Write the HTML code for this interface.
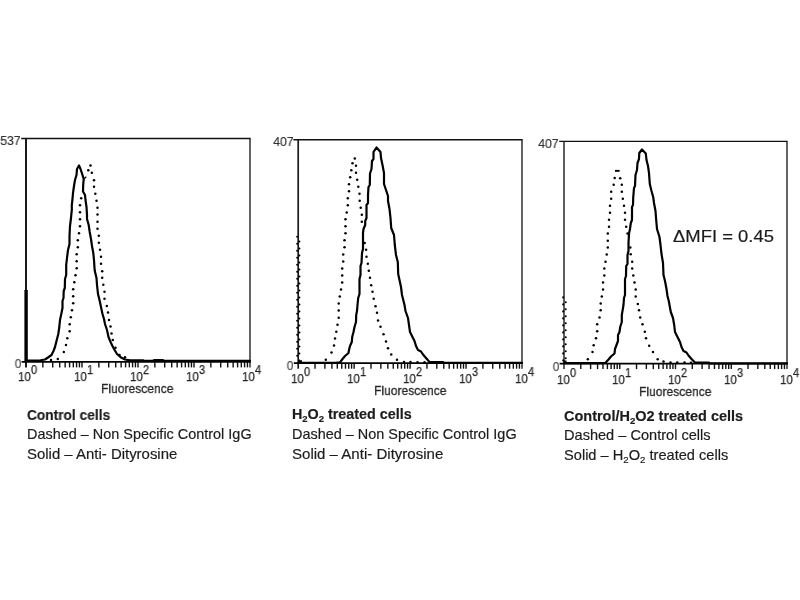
<!DOCTYPE html>
<html><head><meta charset="utf-8"><title>Flow cytometry histograms</title>
<style>
html,body{margin:0;padding:0;background:#fff}
body{width:800px;height:600px;position:relative;overflow:hidden;font-family:"Liberation Sans",sans-serif}
.t{position:absolute;white-space:nowrap;margin:0;padding:0;filter:grayscale(1);will-change:transform}
.t sub{font-size:66%;vertical-align:baseline;position:relative;top:0.36em;line-height:0}
</style></head><body>
<svg width="800" height="600" viewBox="0 0 800 600" style="position:absolute;left:0;top:0;filter:blur(0.35px)">
<rect width="800" height="600" fill="#fff"/>
<line x1="21.2" y1="138.5" x2="250.6" y2="138.5" stroke="#111" stroke-width="1.4"/>
<line x1="26.0" y1="138.5" x2="26.0" y2="367.4" stroke="#1a1a1a" stroke-width="2.0"/>
<line x1="250.0" y1="138.5" x2="250.0" y2="367.4" stroke="#111" stroke-width="1.3"/>
<line x1="21.6" y1="361.9" x2="250.6" y2="361.9" stroke="#000" stroke-width="1.7"/>
<line x1="42.86" y1="361.9" x2="42.86" y2="367.4" stroke="#111" stroke-width="1.4"/>
<line x1="52.72" y1="361.9" x2="52.72" y2="367.4" stroke="#111" stroke-width="1.4"/>
<line x1="59.72" y1="361.9" x2="59.72" y2="367.4" stroke="#111" stroke-width="1.4"/>
<line x1="65.14" y1="361.9" x2="65.14" y2="367.4" stroke="#111" stroke-width="1.4"/>
<line x1="69.58" y1="361.9" x2="69.58" y2="367.4" stroke="#111" stroke-width="1.4"/>
<line x1="73.33" y1="361.9" x2="73.33" y2="367.4" stroke="#111" stroke-width="1.4"/>
<line x1="76.57" y1="361.9" x2="76.57" y2="367.4" stroke="#111" stroke-width="1.4"/>
<line x1="79.44" y1="361.9" x2="79.44" y2="367.4" stroke="#111" stroke-width="1.4"/>
<line x1="82.00" y1="361.9" x2="82.00" y2="367.4" stroke="#111" stroke-width="1.4"/>
<line x1="98.86" y1="361.9" x2="98.86" y2="367.4" stroke="#111" stroke-width="1.4"/>
<line x1="108.72" y1="361.9" x2="108.72" y2="367.4" stroke="#111" stroke-width="1.4"/>
<line x1="115.72" y1="361.9" x2="115.72" y2="367.4" stroke="#111" stroke-width="1.4"/>
<line x1="121.14" y1="361.9" x2="121.14" y2="367.4" stroke="#111" stroke-width="1.4"/>
<line x1="125.58" y1="361.9" x2="125.58" y2="367.4" stroke="#111" stroke-width="1.4"/>
<line x1="129.33" y1="361.9" x2="129.33" y2="367.4" stroke="#111" stroke-width="1.4"/>
<line x1="132.57" y1="361.9" x2="132.57" y2="367.4" stroke="#111" stroke-width="1.4"/>
<line x1="135.44" y1="361.9" x2="135.44" y2="367.4" stroke="#111" stroke-width="1.4"/>
<line x1="138.00" y1="361.9" x2="138.00" y2="367.4" stroke="#111" stroke-width="1.4"/>
<line x1="154.86" y1="361.9" x2="154.86" y2="367.4" stroke="#111" stroke-width="1.4"/>
<line x1="164.72" y1="361.9" x2="164.72" y2="367.4" stroke="#111" stroke-width="1.4"/>
<line x1="171.72" y1="361.9" x2="171.72" y2="367.4" stroke="#111" stroke-width="1.4"/>
<line x1="177.14" y1="361.9" x2="177.14" y2="367.4" stroke="#111" stroke-width="1.4"/>
<line x1="181.58" y1="361.9" x2="181.58" y2="367.4" stroke="#111" stroke-width="1.4"/>
<line x1="185.33" y1="361.9" x2="185.33" y2="367.4" stroke="#111" stroke-width="1.4"/>
<line x1="188.57" y1="361.9" x2="188.57" y2="367.4" stroke="#111" stroke-width="1.4"/>
<line x1="191.44" y1="361.9" x2="191.44" y2="367.4" stroke="#111" stroke-width="1.4"/>
<line x1="194.00" y1="361.9" x2="194.00" y2="367.4" stroke="#111" stroke-width="1.4"/>
<line x1="210.86" y1="361.9" x2="210.86" y2="367.4" stroke="#111" stroke-width="1.4"/>
<line x1="220.72" y1="361.9" x2="220.72" y2="367.4" stroke="#111" stroke-width="1.4"/>
<line x1="227.72" y1="361.9" x2="227.72" y2="367.4" stroke="#111" stroke-width="1.4"/>
<line x1="233.14" y1="361.9" x2="233.14" y2="367.4" stroke="#111" stroke-width="1.4"/>
<line x1="237.58" y1="361.9" x2="237.58" y2="367.4" stroke="#111" stroke-width="1.4"/>
<line x1="241.33" y1="361.9" x2="241.33" y2="367.4" stroke="#111" stroke-width="1.4"/>
<line x1="244.57" y1="361.9" x2="244.57" y2="367.4" stroke="#111" stroke-width="1.4"/>
<line x1="247.44" y1="361.9" x2="247.44" y2="367.4" stroke="#111" stroke-width="1.4"/>
<path d="M27.5,360.6 L40.0,360.6 L42.0,360.0 L45.0,359.5 L48.0,357.5 L51.5,355.0 L53.5,351.0 L55.0,347.0 L56.5,341.0 L58.3,334.0 L59.3,327.0 L60.0,320.0 L61.3,314.0 L62.5,308.0 L62.5,301.0 L63.5,298.0 L63.7,291.0 L64.8,288.0 L65.0,279.0 L66.2,275.0 L66.2,265.0 L67.0,258.0 L68.0,250.0 L69.5,244.0 L69.5,236.0 L70.0,226.0 L71.0,218.0 L71.8,210.0 L71.8,205.0 L72.5,199.0 L73.0,193.0 L74.0,186.0 L75.0,180.0 L76.5,175.0 L77.0,169.0 L79.0,165.5 L80.5,169.0 L82.5,175.0 L83.7,179.0 L83.2,185.0 L83.0,191.5 L85.0,195.0 L85.5,200.0 L86.5,207.0 L87.0,215.0 L87.0,219.0 L88.7,225.0 L89.7,232.0 L91.0,239.0 L92.0,246.0 L93.3,253.0 L94.0,260.0 L94.5,268.0 L94.8,271.0 L96.5,278.0 L97.0,285.0 L98.0,294.0 L99.5,300.0 L101.0,307.0 L102.5,314.0 L104.0,319.0 L105.0,324.0 L107.0,330.0 L108.5,337.0 L111.0,343.0 L114.0,349.0 L117.0,354.0 L121.0,357.5 L125.0,359.5 L130.0,360.3 L143.0,360.3 L144.0,360.8 L153.0,360.8 L154.0,360.2 L163.0,360.2 L164.0,360.8 L250.0,360.8" fill="none" stroke="#000" stroke-width="2.2" stroke-linejoin="round" stroke-linecap="round"/>
<circle cx="90.5" cy="165.5" r="1.25" fill="#000"/>
<circle cx="88.3" cy="170.3" r="1.25" fill="#000"/>
<circle cx="91.8" cy="172.8" r="1.25" fill="#000"/>
<circle cx="94.0" cy="180.2" r="1.25" fill="#000"/>
<circle cx="94.0" cy="186.8" r="1.25" fill="#000"/>
<circle cx="95.3" cy="193.7" r="1.25" fill="#000"/>
<circle cx="96.5" cy="200.8" r="1.25" fill="#000"/>
<circle cx="97.5" cy="207.7" r="1.25" fill="#000"/>
<circle cx="97.5" cy="214.5" r="1.25" fill="#000"/>
<circle cx="97.5" cy="221.7" r="1.25" fill="#000"/>
<circle cx="97.5" cy="228.7" r="1.25" fill="#000"/>
<circle cx="98.8" cy="235.7" r="1.25" fill="#000"/>
<circle cx="98.8" cy="242.7" r="1.25" fill="#000"/>
<circle cx="100.0" cy="249.7" r="1.25" fill="#000"/>
<circle cx="101.0" cy="256.7" r="1.25" fill="#000"/>
<circle cx="101.0" cy="263.7" r="1.25" fill="#000"/>
<circle cx="102.2" cy="271.2" r="1.25" fill="#000"/>
<circle cx="102.2" cy="277.7" r="1.25" fill="#000"/>
<circle cx="103.3" cy="284.7" r="1.25" fill="#000"/>
<circle cx="104.5" cy="291.7" r="1.25" fill="#000"/>
<circle cx="104.5" cy="298.7" r="1.25" fill="#000"/>
<circle cx="106.8" cy="306.0" r="1.25" fill="#000"/>
<circle cx="108.0" cy="312.5" r="1.25" fill="#000"/>
<circle cx="109.0" cy="320.0" r="1.25" fill="#000"/>
<circle cx="110.5" cy="326.5" r="1.25" fill="#000"/>
<circle cx="111.5" cy="333.5" r="1.25" fill="#000"/>
<circle cx="112.8" cy="340.0" r="1.25" fill="#000"/>
<circle cx="115.5" cy="347.8" r="1.25" fill="#000"/>
<circle cx="119.5" cy="355.0" r="1.25" fill="#000"/>
<circle cx="125.0" cy="357.3" r="1.25" fill="#000"/>
<circle cx="81.2" cy="198.3" r="1.25" fill="#000"/>
<circle cx="80.0" cy="205.3" r="1.25" fill="#000"/>
<circle cx="80.0" cy="212.3" r="1.25" fill="#000"/>
<circle cx="80.0" cy="219.3" r="1.25" fill="#000"/>
<circle cx="80.0" cy="226.2" r="1.25" fill="#000"/>
<circle cx="79.0" cy="233.3" r="1.25" fill="#000"/>
<circle cx="77.8" cy="240.3" r="1.25" fill="#000"/>
<circle cx="77.8" cy="247.3" r="1.25" fill="#000"/>
<circle cx="76.7" cy="254.2" r="1.25" fill="#000"/>
<circle cx="76.7" cy="261.3" r="1.25" fill="#000"/>
<circle cx="76.7" cy="268.3" r="1.25" fill="#000"/>
<circle cx="75.5" cy="275.3" r="1.25" fill="#000"/>
<circle cx="74.3" cy="282.3" r="1.25" fill="#000"/>
<circle cx="73.2" cy="289.3" r="1.25" fill="#000"/>
<circle cx="73.2" cy="296.3" r="1.25" fill="#000"/>
<circle cx="73.2" cy="303.2" r="1.25" fill="#000"/>
<circle cx="72.0" cy="310.3" r="1.25" fill="#000"/>
<circle cx="70.8" cy="317.3" r="1.25" fill="#000"/>
<circle cx="69.7" cy="324.2" r="1.25" fill="#000"/>
<circle cx="69.7" cy="331.2" r="1.25" fill="#000"/>
<circle cx="67.3" cy="338.2" r="1.25" fill="#000"/>
<circle cx="66.0" cy="345.0" r="1.25" fill="#000"/>
<circle cx="63.8" cy="352.0" r="1.25" fill="#000"/>
<circle cx="57.8" cy="359.0" r="1.25" fill="#000"/>
<circle cx="51.0" cy="360.0" r="1.25" fill="#000"/>
<line x1="293.4" y1="139.8" x2="522.6" y2="139.8" stroke="#111" stroke-width="1.4"/>
<line x1="298.2" y1="139.8" x2="298.2" y2="368.7" stroke="#1a1a1a" stroke-width="1.7"/>
<line x1="522.0" y1="139.8" x2="522.0" y2="368.7" stroke="#111" stroke-width="1.3"/>
<line x1="293.8" y1="363.2" x2="522.6" y2="363.2" stroke="#000" stroke-width="1.7"/>
<line x1="315.04" y1="363.2" x2="315.04" y2="368.7" stroke="#111" stroke-width="1.4"/>
<line x1="324.89" y1="363.2" x2="324.89" y2="368.7" stroke="#111" stroke-width="1.4"/>
<line x1="331.89" y1="363.2" x2="331.89" y2="368.7" stroke="#111" stroke-width="1.4"/>
<line x1="337.31" y1="363.2" x2="337.31" y2="368.7" stroke="#111" stroke-width="1.4"/>
<line x1="341.74" y1="363.2" x2="341.74" y2="368.7" stroke="#111" stroke-width="1.4"/>
<line x1="345.48" y1="363.2" x2="345.48" y2="368.7" stroke="#111" stroke-width="1.4"/>
<line x1="348.73" y1="363.2" x2="348.73" y2="368.7" stroke="#111" stroke-width="1.4"/>
<line x1="351.59" y1="363.2" x2="351.59" y2="368.7" stroke="#111" stroke-width="1.4"/>
<line x1="354.15" y1="363.2" x2="354.15" y2="368.7" stroke="#111" stroke-width="1.4"/>
<line x1="370.99" y1="363.2" x2="370.99" y2="368.7" stroke="#111" stroke-width="1.4"/>
<line x1="380.84" y1="363.2" x2="380.84" y2="368.7" stroke="#111" stroke-width="1.4"/>
<line x1="387.84" y1="363.2" x2="387.84" y2="368.7" stroke="#111" stroke-width="1.4"/>
<line x1="393.26" y1="363.2" x2="393.26" y2="368.7" stroke="#111" stroke-width="1.4"/>
<line x1="397.69" y1="363.2" x2="397.69" y2="368.7" stroke="#111" stroke-width="1.4"/>
<line x1="401.43" y1="363.2" x2="401.43" y2="368.7" stroke="#111" stroke-width="1.4"/>
<line x1="404.68" y1="363.2" x2="404.68" y2="368.7" stroke="#111" stroke-width="1.4"/>
<line x1="407.54" y1="363.2" x2="407.54" y2="368.7" stroke="#111" stroke-width="1.4"/>
<line x1="410.10" y1="363.2" x2="410.10" y2="368.7" stroke="#111" stroke-width="1.4"/>
<line x1="426.94" y1="363.2" x2="426.94" y2="368.7" stroke="#111" stroke-width="1.4"/>
<line x1="436.79" y1="363.2" x2="436.79" y2="368.7" stroke="#111" stroke-width="1.4"/>
<line x1="443.79" y1="363.2" x2="443.79" y2="368.7" stroke="#111" stroke-width="1.4"/>
<line x1="449.21" y1="363.2" x2="449.21" y2="368.7" stroke="#111" stroke-width="1.4"/>
<line x1="453.64" y1="363.2" x2="453.64" y2="368.7" stroke="#111" stroke-width="1.4"/>
<line x1="457.38" y1="363.2" x2="457.38" y2="368.7" stroke="#111" stroke-width="1.4"/>
<line x1="460.63" y1="363.2" x2="460.63" y2="368.7" stroke="#111" stroke-width="1.4"/>
<line x1="463.49" y1="363.2" x2="463.49" y2="368.7" stroke="#111" stroke-width="1.4"/>
<line x1="466.05" y1="363.2" x2="466.05" y2="368.7" stroke="#111" stroke-width="1.4"/>
<line x1="482.89" y1="363.2" x2="482.89" y2="368.7" stroke="#111" stroke-width="1.4"/>
<line x1="492.74" y1="363.2" x2="492.74" y2="368.7" stroke="#111" stroke-width="1.4"/>
<line x1="499.74" y1="363.2" x2="499.74" y2="368.7" stroke="#111" stroke-width="1.4"/>
<line x1="505.16" y1="363.2" x2="505.16" y2="368.7" stroke="#111" stroke-width="1.4"/>
<line x1="509.59" y1="363.2" x2="509.59" y2="368.7" stroke="#111" stroke-width="1.4"/>
<line x1="513.33" y1="363.2" x2="513.33" y2="368.7" stroke="#111" stroke-width="1.4"/>
<line x1="516.58" y1="363.2" x2="516.58" y2="368.7" stroke="#111" stroke-width="1.4"/>
<line x1="519.44" y1="363.2" x2="519.44" y2="368.7" stroke="#111" stroke-width="1.4"/>
<path d="M298.5,362.8 L335.0,362.8 L340.0,362.3 L342.5,359.0 L345.0,356.0 L348.5,353.0 L349.0,350.0 L350.0,346.0 L351.8,342.0 L352.2,337.0 L353.5,332.0 L354.5,327.0 L356.0,322.0 L356.2,315.0 L357.0,311.0 L357.5,305.0 L358.2,298.0 L359.5,294.0 L359.5,279.0 L360.5,275.0 L360.5,266.0 L361.5,263.0 L362.0,253.0 L363.0,249.0 L363.0,233.0 L363.5,229.0 L365.2,225.0 L365.2,221.0 L366.5,218.0 L366.5,205.0 L368.0,203.0 L368.0,195.0 L368.5,187.0 L369.8,185.0 L370.0,173.5 L371.5,169.0 L372.0,161.0 L373.5,159.0 L373.5,152.0 L376.5,147.5 L380.5,152.0 L381.0,158.0 L382.5,165.0 L384.0,173.0 L384.0,184.0 L386.0,190.0 L388.0,196.0 L388.0,201.0 L389.5,209.0 L390.5,218.0 L391.2,228.0 L394.0,235.0 L394.8,245.0 L396.0,255.0 L397.8,262.0 L398.2,274.0 L399.5,280.0 L401.0,287.0 L402.0,295.0 L403.5,301.0 L404.5,305.0 L405.5,311.0 L408.0,318.0 L409.0,325.0 L410.0,332.0 L412.5,337.0 L414.5,341.0 L416.0,346.0 L418.0,350.0 L421.0,351.5 L423.0,354.5 L426.0,358.0 L429.5,362.0 L443.0,362.0 L444.0,362.9 L522.0,362.9" fill="none" stroke="#000" stroke-width="2.2" stroke-linejoin="round" stroke-linecap="round"/>
<circle cx="354.8" cy="158.5" r="1.25" fill="#000"/>
<circle cx="352.5" cy="163.3" r="1.25" fill="#000"/>
<circle cx="351.3" cy="170.2" r="1.25" fill="#000"/>
<circle cx="350.2" cy="177.3" r="1.25" fill="#000"/>
<circle cx="349.0" cy="184.3" r="1.25" fill="#000"/>
<circle cx="349.0" cy="191.3" r="1.25" fill="#000"/>
<circle cx="347.8" cy="198.3" r="1.25" fill="#000"/>
<circle cx="347.8" cy="205.3" r="1.25" fill="#000"/>
<circle cx="346.7" cy="212.5" r="1.25" fill="#000"/>
<circle cx="345.5" cy="219.3" r="1.25" fill="#000"/>
<circle cx="345.5" cy="226.3" r="1.25" fill="#000"/>
<circle cx="345.5" cy="233.3" r="1.25" fill="#000"/>
<circle cx="344.5" cy="240.3" r="1.25" fill="#000"/>
<circle cx="344.5" cy="247.3" r="1.25" fill="#000"/>
<circle cx="343.2" cy="254.4" r="1.25" fill="#000"/>
<circle cx="343.2" cy="261.5" r="1.25" fill="#000"/>
<circle cx="342.2" cy="268.5" r="1.25" fill="#000"/>
<circle cx="342.2" cy="275.5" r="1.25" fill="#000"/>
<circle cx="342.2" cy="282.5" r="1.25" fill="#000"/>
<circle cx="341.0" cy="289.5" r="1.25" fill="#000"/>
<circle cx="339.8" cy="296.5" r="1.25" fill="#000"/>
<circle cx="338.7" cy="303.5" r="1.25" fill="#000"/>
<circle cx="338.7" cy="310.5" r="1.25" fill="#000"/>
<circle cx="338.7" cy="317.7" r="1.25" fill="#000"/>
<circle cx="337.5" cy="324.7" r="1.25" fill="#000"/>
<circle cx="336.3" cy="331.7" r="1.25" fill="#000"/>
<circle cx="335.0" cy="338.5" r="1.25" fill="#000"/>
<circle cx="334.0" cy="345.5" r="1.25" fill="#000"/>
<circle cx="331.5" cy="352.5" r="1.25" fill="#000"/>
<circle cx="325.8" cy="359.8" r="1.25" fill="#000"/>
<circle cx="356.0" cy="165.7" r="1.25" fill="#000"/>
<circle cx="356.0" cy="172.7" r="1.25" fill="#000"/>
<circle cx="357.2" cy="179.7" r="1.25" fill="#000"/>
<circle cx="358.3" cy="186.7" r="1.25" fill="#000"/>
<circle cx="359.5" cy="193.8" r="1.25" fill="#000"/>
<circle cx="359.7" cy="200.8" r="1.25" fill="#000"/>
<circle cx="360.7" cy="207.7" r="1.25" fill="#000"/>
<circle cx="361.8" cy="214.8" r="1.25" fill="#000"/>
<circle cx="361.8" cy="221.8" r="1.25" fill="#000"/>
<circle cx="364.7" cy="243.0" r="1.25" fill="#000"/>
<circle cx="366.1" cy="249.8" r="1.25" fill="#000"/>
<circle cx="366.5" cy="256.8" r="1.25" fill="#000"/>
<circle cx="367.8" cy="263.8" r="1.25" fill="#000"/>
<circle cx="368.8" cy="270.8" r="1.25" fill="#000"/>
<circle cx="370.0" cy="277.8" r="1.25" fill="#000"/>
<circle cx="371.2" cy="285.3" r="1.25" fill="#000"/>
<circle cx="372.5" cy="291.8" r="1.25" fill="#000"/>
<circle cx="373.7" cy="298.8" r="1.25" fill="#000"/>
<circle cx="375.5" cy="306.3" r="1.25" fill="#000"/>
<circle cx="377.0" cy="312.8" r="1.25" fill="#000"/>
<circle cx="378.0" cy="320.5" r="1.25" fill="#000"/>
<circle cx="380.5" cy="326.7" r="1.25" fill="#000"/>
<circle cx="383.5" cy="334.2" r="1.25" fill="#000"/>
<circle cx="386.0" cy="341.5" r="1.25" fill="#000"/>
<circle cx="388.0" cy="348.2" r="1.25" fill="#000"/>
<circle cx="391.2" cy="354.5" r="1.25" fill="#000"/>
<circle cx="397.0" cy="359.8" r="1.25" fill="#000"/>
<circle cx="404.0" cy="362.0" r="1.25" fill="#000"/>
<circle cx="410.5" cy="362.0" r="1.25" fill="#000"/>
<circle cx="417.5" cy="362.2" r="1.25" fill="#000"/>
<circle cx="424.5" cy="362.2" r="1.25" fill="#000"/>
<line x1="559.2" y1="141.4" x2="787.6" y2="141.4" stroke="#111" stroke-width="1.4"/>
<line x1="564.0" y1="141.4" x2="564.0" y2="369.1" stroke="#1a1a1a" stroke-width="1.4"/>
<line x1="787.0" y1="141.4" x2="787.0" y2="369.1" stroke="#111" stroke-width="1.3"/>
<line x1="559.6" y1="363.6" x2="787.6" y2="363.6" stroke="#000" stroke-width="1.7"/>
<line x1="580.78" y1="363.6" x2="580.78" y2="369.1" stroke="#111" stroke-width="1.4"/>
<line x1="590.60" y1="363.6" x2="590.60" y2="369.1" stroke="#111" stroke-width="1.4"/>
<line x1="597.56" y1="363.6" x2="597.56" y2="369.1" stroke="#111" stroke-width="1.4"/>
<line x1="602.97" y1="363.6" x2="602.97" y2="369.1" stroke="#111" stroke-width="1.4"/>
<line x1="607.38" y1="363.6" x2="607.38" y2="369.1" stroke="#111" stroke-width="1.4"/>
<line x1="611.11" y1="363.6" x2="611.11" y2="369.1" stroke="#111" stroke-width="1.4"/>
<line x1="614.35" y1="363.6" x2="614.35" y2="369.1" stroke="#111" stroke-width="1.4"/>
<line x1="617.20" y1="363.6" x2="617.20" y2="369.1" stroke="#111" stroke-width="1.4"/>
<line x1="619.75" y1="363.6" x2="619.75" y2="369.1" stroke="#111" stroke-width="1.4"/>
<line x1="636.53" y1="363.6" x2="636.53" y2="369.1" stroke="#111" stroke-width="1.4"/>
<line x1="646.35" y1="363.6" x2="646.35" y2="369.1" stroke="#111" stroke-width="1.4"/>
<line x1="653.31" y1="363.6" x2="653.31" y2="369.1" stroke="#111" stroke-width="1.4"/>
<line x1="658.72" y1="363.6" x2="658.72" y2="369.1" stroke="#111" stroke-width="1.4"/>
<line x1="663.13" y1="363.6" x2="663.13" y2="369.1" stroke="#111" stroke-width="1.4"/>
<line x1="666.86" y1="363.6" x2="666.86" y2="369.1" stroke="#111" stroke-width="1.4"/>
<line x1="670.10" y1="363.6" x2="670.10" y2="369.1" stroke="#111" stroke-width="1.4"/>
<line x1="672.95" y1="363.6" x2="672.95" y2="369.1" stroke="#111" stroke-width="1.4"/>
<line x1="675.50" y1="363.6" x2="675.50" y2="369.1" stroke="#111" stroke-width="1.4"/>
<line x1="692.28" y1="363.6" x2="692.28" y2="369.1" stroke="#111" stroke-width="1.4"/>
<line x1="702.10" y1="363.6" x2="702.10" y2="369.1" stroke="#111" stroke-width="1.4"/>
<line x1="709.06" y1="363.6" x2="709.06" y2="369.1" stroke="#111" stroke-width="1.4"/>
<line x1="714.47" y1="363.6" x2="714.47" y2="369.1" stroke="#111" stroke-width="1.4"/>
<line x1="718.88" y1="363.6" x2="718.88" y2="369.1" stroke="#111" stroke-width="1.4"/>
<line x1="722.61" y1="363.6" x2="722.61" y2="369.1" stroke="#111" stroke-width="1.4"/>
<line x1="725.85" y1="363.6" x2="725.85" y2="369.1" stroke="#111" stroke-width="1.4"/>
<line x1="728.70" y1="363.6" x2="728.70" y2="369.1" stroke="#111" stroke-width="1.4"/>
<line x1="731.25" y1="363.6" x2="731.25" y2="369.1" stroke="#111" stroke-width="1.4"/>
<line x1="748.03" y1="363.6" x2="748.03" y2="369.1" stroke="#111" stroke-width="1.4"/>
<line x1="757.85" y1="363.6" x2="757.85" y2="369.1" stroke="#111" stroke-width="1.4"/>
<line x1="764.81" y1="363.6" x2="764.81" y2="369.1" stroke="#111" stroke-width="1.4"/>
<line x1="770.22" y1="363.6" x2="770.22" y2="369.1" stroke="#111" stroke-width="1.4"/>
<line x1="774.63" y1="363.6" x2="774.63" y2="369.1" stroke="#111" stroke-width="1.4"/>
<line x1="778.36" y1="363.6" x2="778.36" y2="369.1" stroke="#111" stroke-width="1.4"/>
<line x1="781.60" y1="363.6" x2="781.60" y2="369.1" stroke="#111" stroke-width="1.4"/>
<line x1="784.45" y1="363.6" x2="784.45" y2="369.1" stroke="#111" stroke-width="1.4"/>
<path d="M564.5,363.2 L600.0,363.2 L605.5,362.8 L608.5,359.5 L611.0,356.5 L614.5,353.5 L615.0,349.0 L616.5,345.0 L618.0,341.0 L618.0,335.0 L619.5,332.0 L620.2,327.0 L621.8,322.0 L621.8,315.0 L622.5,311.0 L623.5,305.0 L624.0,298.0 L625.0,295.0 L625.0,279.0 L626.0,276.0 L626.2,266.0 L627.5,264.0 L627.5,255.0 L628.5,251.0 L628.5,243.0 L629.0,233.5 L630.0,229.0 L630.8,223.0 L632.0,220.0 L632.0,207.0 L633.0,205.0 L633.2,198.0 L634.0,188.0 L635.0,186.0 L635.5,175.0 L637.0,170.0 L637.5,163.0 L639.0,159.0 L639.3,153.0 L642.0,149.5 L645.8,153.5 L646.5,160.0 L648.0,166.0 L649.0,173.0 L649.8,184.0 L651.5,191.0 L653.2,197.0 L654.0,203.0 L655.5,211.0 L656.2,220.0 L657.0,229.0 L659.5,237.0 L660.5,245.0 L661.5,254.0 L662.0,257.0 L663.0,263.0 L663.5,275.0 L665.0,281.0 L666.5,289.0 L667.5,296.0 L669.0,302.0 L669.5,305.0 L670.8,312.0 L673.0,318.0 L674.2,325.0 L675.0,332.0 L677.5,337.0 L680.0,342.0 L681.5,347.0 L683.5,351.0 L686.5,352.5 L688.5,355.5 L691.5,359.0 L695.0,362.5 L709.0,362.5 L710.0,363.3 L787.0,363.3" fill="none" stroke="#000" stroke-width="2.2" stroke-linejoin="round" stroke-linecap="round"/>
<circle cx="614.7" cy="178.0" r="1.25" fill="#000"/>
<circle cx="613.7" cy="184.7" r="1.25" fill="#000"/>
<circle cx="611.2" cy="191.8" r="1.25" fill="#000"/>
<circle cx="611.2" cy="198.7" r="1.25" fill="#000"/>
<circle cx="610.0" cy="205.7" r="1.25" fill="#000"/>
<circle cx="610.0" cy="212.8" r="1.25" fill="#000"/>
<circle cx="609.0" cy="219.7" r="1.25" fill="#000"/>
<circle cx="609.0" cy="226.7" r="1.25" fill="#000"/>
<circle cx="607.8" cy="233.5" r="1.25" fill="#000"/>
<circle cx="607.8" cy="240.7" r="1.25" fill="#000"/>
<circle cx="607.8" cy="247.5" r="1.25" fill="#000"/>
<circle cx="606.7" cy="254.4" r="1.25" fill="#000"/>
<circle cx="605.5" cy="261.7" r="1.25" fill="#000"/>
<circle cx="604.3" cy="268.5" r="1.25" fill="#000"/>
<circle cx="604.3" cy="275.5" r="1.25" fill="#000"/>
<circle cx="603.0" cy="282.5" r="1.25" fill="#000"/>
<circle cx="603.0" cy="289.5" r="1.25" fill="#000"/>
<circle cx="601.8" cy="296.5" r="1.25" fill="#000"/>
<circle cx="600.7" cy="303.5" r="1.25" fill="#000"/>
<circle cx="600.7" cy="310.2" r="1.25" fill="#000"/>
<circle cx="599.5" cy="317.5" r="1.25" fill="#000"/>
<circle cx="597.2" cy="324.2" r="1.25" fill="#000"/>
<circle cx="597.2" cy="331.3" r="1.25" fill="#000"/>
<circle cx="596.0" cy="338.2" r="1.25" fill="#000"/>
<circle cx="593.7" cy="345.2" r="1.25" fill="#000"/>
<circle cx="592.5" cy="352.0" r="1.25" fill="#000"/>
<circle cx="587.8" cy="359.2" r="1.25" fill="#000"/>
<circle cx="620.2" cy="178.3" r="1.25" fill="#000"/>
<circle cx="621.8" cy="184.7" r="1.25" fill="#000"/>
<circle cx="621.8" cy="191.8" r="1.25" fill="#000"/>
<circle cx="622.8" cy="198.7" r="1.25" fill="#000"/>
<circle cx="624.0" cy="205.7" r="1.25" fill="#000"/>
<circle cx="625.0" cy="212.8" r="1.25" fill="#000"/>
<circle cx="625.0" cy="219.7" r="1.25" fill="#000"/>
<circle cx="626.2" cy="226.8" r="1.25" fill="#000"/>
<circle cx="627.5" cy="233.5" r="1.25" fill="#000"/>
<circle cx="630.3" cy="247.5" r="1.25" fill="#000"/>
<circle cx="630.7" cy="254.3" r="1.25" fill="#000"/>
<circle cx="632.2" cy="261.7" r="1.25" fill="#000"/>
<circle cx="632.2" cy="268.5" r="1.25" fill="#000"/>
<circle cx="633.3" cy="275.5" r="1.25" fill="#000"/>
<circle cx="634.5" cy="282.5" r="1.25" fill="#000"/>
<circle cx="635.7" cy="289.5" r="1.25" fill="#000"/>
<circle cx="635.7" cy="296.5" r="1.25" fill="#000"/>
<circle cx="637.8" cy="304.0" r="1.25" fill="#000"/>
<circle cx="639.0" cy="310.2" r="1.25" fill="#000"/>
<circle cx="640.2" cy="317.5" r="1.25" fill="#000"/>
<circle cx="642.5" cy="324.2" r="1.25" fill="#000"/>
<circle cx="644.8" cy="331.8" r="1.25" fill="#000"/>
<circle cx="646.0" cy="338.2" r="1.25" fill="#000"/>
<circle cx="649.2" cy="345.7" r="1.25" fill="#000"/>
<circle cx="653.0" cy="352.0" r="1.25" fill="#000"/>
<circle cx="657.7" cy="359.2" r="1.25" fill="#000"/>
<circle cx="663.5" cy="361.5" r="1.25" fill="#000"/>
<circle cx="670.5" cy="362.4" r="1.25" fill="#000"/>
<circle cx="677.2" cy="362.4" r="1.25" fill="#000"/>
<circle cx="684.5" cy="362.6" r="1.25" fill="#000"/>
<circle cx="691.0" cy="362.8" r="1.25" fill="#000"/>
<rect x="24.4" y="290" width="3.4" height="72" fill="#000"/>
<line x1="83.7" y1="179" x2="86.3" y2="176.7" stroke="#000" stroke-width="1.2"/>
<rect x="615.0" y="169.9" width="4.6" height="1.9" fill="#000"/>
<circle cx="297.2" cy="236.8" r="1.05" fill="#000"/>
<circle cx="297.2" cy="243.8" r="1.05" fill="#000"/>
<circle cx="297.2" cy="250.8" r="1.05" fill="#000"/>
<circle cx="297.2" cy="257.8" r="1.05" fill="#000"/>
<circle cx="297.2" cy="264.8" r="1.05" fill="#000"/>
<circle cx="297.2" cy="271.8" r="1.05" fill="#000"/>
<circle cx="297.2" cy="278.8" r="1.05" fill="#000"/>
<circle cx="297.2" cy="285.8" r="1.05" fill="#000"/>
<circle cx="297.2" cy="292.8" r="1.05" fill="#000"/>
<circle cx="297.2" cy="299.8" r="1.05" fill="#000"/>
<circle cx="297.2" cy="306.8" r="1.05" fill="#000"/>
<circle cx="297.2" cy="313.8" r="1.05" fill="#000"/>
<circle cx="297.2" cy="320.8" r="1.05" fill="#000"/>
<circle cx="297.2" cy="327.8" r="1.05" fill="#000"/>
<circle cx="297.2" cy="334.8" r="1.05" fill="#000"/>
<circle cx="297.2" cy="341.8" r="1.05" fill="#000"/>
<circle cx="297.2" cy="348.8" r="1.05" fill="#000"/>
<circle cx="297.2" cy="355.8" r="1.05" fill="#000"/>
<circle cx="299.4" cy="241.5" r="1.05" fill="#000"/>
<circle cx="299.4" cy="248.5" r="1.05" fill="#000"/>
<circle cx="299.4" cy="255.5" r="1.05" fill="#000"/>
<circle cx="299.4" cy="262.5" r="1.05" fill="#000"/>
<circle cx="299.4" cy="269.5" r="1.05" fill="#000"/>
<circle cx="299.4" cy="276.5" r="1.05" fill="#000"/>
<circle cx="299.4" cy="283.5" r="1.05" fill="#000"/>
<circle cx="299.4" cy="290.5" r="1.05" fill="#000"/>
<circle cx="299.4" cy="297.5" r="1.05" fill="#000"/>
<circle cx="299.4" cy="304.5" r="1.05" fill="#000"/>
<circle cx="299.4" cy="311.5" r="1.05" fill="#000"/>
<circle cx="299.4" cy="318.5" r="1.05" fill="#000"/>
<circle cx="299.4" cy="325.5" r="1.05" fill="#000"/>
<circle cx="299.4" cy="332.5" r="1.05" fill="#000"/>
<circle cx="299.4" cy="339.5" r="1.05" fill="#000"/>
<circle cx="299.4" cy="346.5" r="1.05" fill="#000"/>
<circle cx="299.4" cy="353.5" r="1.05" fill="#000"/>
<circle cx="299.4" cy="360.5" r="1.05" fill="#000"/>
<rect x="298" y="360.3" width="4" height="2.5" fill="#000"/>
<circle cx="563.2" cy="297.4" r="1.05" fill="#000"/>
<circle cx="563.2" cy="304.4" r="1.05" fill="#000"/>
<circle cx="563.2" cy="311.4" r="1.05" fill="#000"/>
<circle cx="563.2" cy="318.4" r="1.05" fill="#000"/>
<circle cx="563.2" cy="325.4" r="1.05" fill="#000"/>
<circle cx="563.2" cy="332.4" r="1.05" fill="#000"/>
<circle cx="563.2" cy="339.4" r="1.05" fill="#000"/>
<circle cx="563.2" cy="346.4" r="1.05" fill="#000"/>
<circle cx="563.2" cy="353.4" r="1.05" fill="#000"/>
<circle cx="563.2" cy="360.4" r="1.05" fill="#000"/>
<circle cx="565.7" cy="302.3" r="1.05" fill="#000"/>
<circle cx="565.7" cy="309.3" r="1.05" fill="#000"/>
<circle cx="565.7" cy="316.3" r="1.05" fill="#000"/>
<circle cx="565.7" cy="323.3" r="1.05" fill="#000"/>
<circle cx="565.7" cy="330.3" r="1.05" fill="#000"/>
<circle cx="565.7" cy="337.3" r="1.05" fill="#000"/>
<circle cx="565.7" cy="344.3" r="1.05" fill="#000"/>
<circle cx="565.7" cy="351.3" r="1.05" fill="#000"/>
<circle cx="565.7" cy="358.3" r="1.05" fill="#000"/>
<rect x="563.5" y="360.5" width="3" height="2.5" fill="#000"/>
</svg>
<div id="ymax0" class="t" style="right:778.90px;top:133.13px;font-size:13.6px;line-height:16.32px;font-weight:normal;color:#333;-webkit-text-stroke:0.20px #333;transform:scaleX(0.9000);transform-origin:right top">537</div>
<div id="y00" class="t" style="right:778.30px;top:356.12px;font-size:13.4px;line-height:16.08px;font-weight:normal;color:#4a4a4a;-webkit-text-stroke:0.20px #4a4a4a;transform:scaleX(0.9000);transform-origin:right top">0</div>
<div id="t0_0" class="t" style="left:17.80px;top:370.26px;font-size:12.4px;line-height:14.88px;font-weight:normal;color:#262626;-webkit-text-stroke:0.25px #262626;transform:scaleX(0.9200);transform-origin:left top">10</div>
<div id="e0_0" class="t" style="left:30.80px;top:363.05px;font-size:12.2px;line-height:14.64px;font-weight:normal;color:#262626;-webkit-text-stroke:0.25px #262626;transform:scaleX(0.9000);transform-origin:left top">0</div>
<div id="t0_1" class="t" style="left:73.80px;top:370.26px;font-size:12.4px;line-height:14.88px;font-weight:normal;color:#262626;-webkit-text-stroke:0.25px #262626;transform:scaleX(0.9200);transform-origin:left top">10</div>
<div id="e0_1" class="t" style="left:86.80px;top:363.05px;font-size:12.2px;line-height:14.64px;font-weight:normal;color:#262626;-webkit-text-stroke:0.25px #262626;transform:scaleX(0.9000);transform-origin:left top">1</div>
<div id="t0_2" class="t" style="left:129.80px;top:370.26px;font-size:12.4px;line-height:14.88px;font-weight:normal;color:#262626;-webkit-text-stroke:0.25px #262626;transform:scaleX(0.9200);transform-origin:left top">10</div>
<div id="e0_2" class="t" style="left:142.80px;top:363.05px;font-size:12.2px;line-height:14.64px;font-weight:normal;color:#262626;-webkit-text-stroke:0.25px #262626;transform:scaleX(0.9000);transform-origin:left top">2</div>
<div id="t0_3" class="t" style="left:185.80px;top:370.26px;font-size:12.4px;line-height:14.88px;font-weight:normal;color:#262626;-webkit-text-stroke:0.25px #262626;transform:scaleX(0.9200);transform-origin:left top">10</div>
<div id="e0_3" class="t" style="left:198.80px;top:363.05px;font-size:12.2px;line-height:14.64px;font-weight:normal;color:#262626;-webkit-text-stroke:0.25px #262626;transform:scaleX(0.9000);transform-origin:left top">3</div>
<div id="t0_4" class="t" style="left:241.80px;top:370.26px;font-size:12.4px;line-height:14.88px;font-weight:normal;color:#262626;-webkit-text-stroke:0.25px #262626;transform:scaleX(0.9200);transform-origin:left top">10</div>
<div id="e0_4" class="t" style="left:254.80px;top:363.05px;font-size:12.2px;line-height:14.64px;font-weight:normal;color:#262626;-webkit-text-stroke:0.25px #262626;transform:scaleX(0.9000);transform-origin:left top">4</div>
<div id="fl0" class="t" style="left:101.40px;top:380.82px;font-size:13.5px;line-height:16.20px;font-weight:normal;color:#262626;-webkit-text-stroke:0.30px #262626;transform:scaleX(0.8945);transform-origin:left top">Fluorescence</div>
<div id="ymax1" class="t" style="right:506.70px;top:133.73px;font-size:13.6px;line-height:16.32px;font-weight:normal;color:#333;-webkit-text-stroke:0.20px #333;transform:scaleX(0.9000);transform-origin:right top">407</div>
<div id="y01" class="t" style="right:507.00px;top:357.82px;font-size:13.4px;line-height:16.08px;font-weight:normal;color:#4a4a4a;-webkit-text-stroke:0.20px #4a4a4a;transform:scaleX(0.9000);transform-origin:right top">0</div>
<div id="t1_0" class="t" style="left:290.80px;top:371.96px;font-size:12.4px;line-height:14.88px;font-weight:normal;color:#262626;-webkit-text-stroke:0.25px #262626;transform:scaleX(0.9200);transform-origin:left top">10</div>
<div id="e1_0" class="t" style="left:303.80px;top:364.75px;font-size:12.2px;line-height:14.64px;font-weight:normal;color:#262626;-webkit-text-stroke:0.25px #262626;transform:scaleX(0.9000);transform-origin:left top">0</div>
<div id="t1_1" class="t" style="left:346.75px;top:371.96px;font-size:12.4px;line-height:14.88px;font-weight:normal;color:#262626;-webkit-text-stroke:0.25px #262626;transform:scaleX(0.9200);transform-origin:left top">10</div>
<div id="e1_1" class="t" style="left:359.75px;top:364.75px;font-size:12.2px;line-height:14.64px;font-weight:normal;color:#262626;-webkit-text-stroke:0.25px #262626;transform:scaleX(0.9000);transform-origin:left top">1</div>
<div id="t1_2" class="t" style="left:402.70px;top:371.96px;font-size:12.4px;line-height:14.88px;font-weight:normal;color:#262626;-webkit-text-stroke:0.25px #262626;transform:scaleX(0.9200);transform-origin:left top">10</div>
<div id="e1_2" class="t" style="left:415.70px;top:364.75px;font-size:12.2px;line-height:14.64px;font-weight:normal;color:#262626;-webkit-text-stroke:0.25px #262626;transform:scaleX(0.9000);transform-origin:left top">2</div>
<div id="t1_3" class="t" style="left:458.65px;top:371.96px;font-size:12.4px;line-height:14.88px;font-weight:normal;color:#262626;-webkit-text-stroke:0.25px #262626;transform:scaleX(0.9200);transform-origin:left top">10</div>
<div id="e1_3" class="t" style="left:471.65px;top:364.75px;font-size:12.2px;line-height:14.64px;font-weight:normal;color:#262626;-webkit-text-stroke:0.25px #262626;transform:scaleX(0.9000);transform-origin:left top">3</div>
<div id="t1_4" class="t" style="left:514.60px;top:371.96px;font-size:12.4px;line-height:14.88px;font-weight:normal;color:#262626;-webkit-text-stroke:0.25px #262626;transform:scaleX(0.9200);transform-origin:left top">10</div>
<div id="e1_4" class="t" style="left:527.60px;top:364.75px;font-size:12.2px;line-height:14.64px;font-weight:normal;color:#262626;-webkit-text-stroke:0.25px #262626;transform:scaleX(0.9000);transform-origin:left top">4</div>
<div id="fl1" class="t" style="left:373.50px;top:382.52px;font-size:13.5px;line-height:16.20px;font-weight:normal;color:#262626;-webkit-text-stroke:0.30px #262626;transform:scaleX(0.8945);transform-origin:left top">Fluorescence</div>
<div id="ymax2" class="t" style="right:240.90px;top:135.93px;font-size:13.6px;line-height:16.32px;font-weight:normal;color:#333;-webkit-text-stroke:0.20px #333;transform:scaleX(0.9000);transform-origin:right top">407</div>
<div id="y02" class="t" style="right:241.00px;top:358.92px;font-size:13.4px;line-height:16.08px;font-weight:normal;color:#4a4a4a;-webkit-text-stroke:0.20px #4a4a4a;transform:scaleX(0.9000);transform-origin:right top">0</div>
<div id="t2_0" class="t" style="left:556.60px;top:373.06px;font-size:12.4px;line-height:14.88px;font-weight:normal;color:#262626;-webkit-text-stroke:0.25px #262626;transform:scaleX(0.9200);transform-origin:left top">10</div>
<div id="e2_0" class="t" style="left:569.60px;top:365.85px;font-size:12.2px;line-height:14.64px;font-weight:normal;color:#262626;-webkit-text-stroke:0.25px #262626;transform:scaleX(0.9000);transform-origin:left top">0</div>
<div id="t2_1" class="t" style="left:612.35px;top:373.06px;font-size:12.4px;line-height:14.88px;font-weight:normal;color:#262626;-webkit-text-stroke:0.25px #262626;transform:scaleX(0.9200);transform-origin:left top">10</div>
<div id="e2_1" class="t" style="left:625.35px;top:365.85px;font-size:12.2px;line-height:14.64px;font-weight:normal;color:#262626;-webkit-text-stroke:0.25px #262626;transform:scaleX(0.9000);transform-origin:left top">1</div>
<div id="t2_2" class="t" style="left:668.10px;top:373.06px;font-size:12.4px;line-height:14.88px;font-weight:normal;color:#262626;-webkit-text-stroke:0.25px #262626;transform:scaleX(0.9200);transform-origin:left top">10</div>
<div id="e2_2" class="t" style="left:681.10px;top:365.85px;font-size:12.2px;line-height:14.64px;font-weight:normal;color:#262626;-webkit-text-stroke:0.25px #262626;transform:scaleX(0.9000);transform-origin:left top">2</div>
<div id="t2_3" class="t" style="left:723.85px;top:373.06px;font-size:12.4px;line-height:14.88px;font-weight:normal;color:#262626;-webkit-text-stroke:0.25px #262626;transform:scaleX(0.9200);transform-origin:left top">10</div>
<div id="e2_3" class="t" style="left:736.85px;top:365.85px;font-size:12.2px;line-height:14.64px;font-weight:normal;color:#262626;-webkit-text-stroke:0.25px #262626;transform:scaleX(0.9000);transform-origin:left top">3</div>
<div id="t2_4" class="t" style="left:779.60px;top:373.06px;font-size:12.4px;line-height:14.88px;font-weight:normal;color:#262626;-webkit-text-stroke:0.25px #262626;transform:scaleX(0.9200);transform-origin:left top">10</div>
<div id="e2_4" class="t" style="left:792.60px;top:365.85px;font-size:12.2px;line-height:14.64px;font-weight:normal;color:#262626;-webkit-text-stroke:0.25px #262626;transform:scaleX(0.9000);transform-origin:left top">4</div>
<div id="fl2" class="t" style="left:638.90px;top:383.62px;font-size:13.5px;line-height:16.20px;font-weight:normal;color:#262626;-webkit-text-stroke:0.30px #262626;transform:scaleX(0.8945);transform-origin:left top">Fluorescence</div>
<div id="c1a" class="t" style="left:26.90px;top:406.77px;font-size:14.3px;line-height:17.16px;font-weight:bold;color:#1c1c1c;-webkit-text-stroke:0.18px #1c1c1c;transform:scaleX(0.9597);transform-origin:left top">Control cells</div>
<div id="c1b" class="t" style="left:26.70px;top:426.27px;font-size:14.3px;line-height:17.16px;font-weight:normal;color:#1c1c1c;-webkit-text-stroke:0.18px #1c1c1c;transform:scaleX(1.0094);transform-origin:left top">Dashed – Non Specific Control IgG</div>
<div id="c1c" class="t" style="left:26.70px;top:445.77px;font-size:14.3px;line-height:17.16px;font-weight:normal;color:#1c1c1c;-webkit-text-stroke:0.18px #1c1c1c;transform:scaleX(1.0450);transform-origin:left top">Solid – Anti- Dityrosine</div>
<div id="c2a" class="t" style="left:291.90px;top:406.47px;font-size:14.3px;line-height:17.16px;font-weight:bold;color:#1c1c1c;-webkit-text-stroke:0.18px #1c1c1c;transform:scaleX(1.0027);transform-origin:left top">H<sub>2</sub>O<sub>2</sub> treated cells</div>
<div id="c2b" class="t" style="left:291.70px;top:426.27px;font-size:14.3px;line-height:17.16px;font-weight:normal;color:#1c1c1c;-webkit-text-stroke:0.18px #1c1c1c;transform:scaleX(1.0094);transform-origin:left top">Dashed – Non Specific Control IgG</div>
<div id="c2c" class="t" style="left:291.70px;top:445.97px;font-size:14.3px;line-height:17.16px;font-weight:normal;color:#1c1c1c;-webkit-text-stroke:0.18px #1c1c1c;transform:scaleX(1.0520);transform-origin:left top">Solid – Anti- Dityrosine</div>
<div id="c3a" class="t" style="left:563.90px;top:407.57px;font-size:14.3px;line-height:17.16px;font-weight:bold;color:#1c1c1c;-webkit-text-stroke:0.18px #1c1c1c;transform:scaleX(1.0126);transform-origin:left top">Control/H<sub>2</sub>O2 treated cells</div>
<div id="c3b" class="t" style="left:563.90px;top:427.47px;font-size:14.3px;line-height:17.16px;font-weight:normal;color:#1c1c1c;-webkit-text-stroke:0.18px #1c1c1c;transform:scaleX(1.0192);transform-origin:left top">Dashed – Control cells</div>
<div id="c3c" class="t" style="left:563.90px;top:446.97px;font-size:14.3px;line-height:17.16px;font-weight:normal;color:#1c1c1c;-webkit-text-stroke:0.18px #1c1c1c;transform:scaleX(1.0224);transform-origin:left top">Solid – H<sub>2</sub>O<sub>2</sub> treated cells</div>
<div id="mfi" class="t" style="left:673.00px;top:226.59px;font-size:16.6px;line-height:19.92px;font-weight:normal;color:#1c1c1c;-webkit-text-stroke:0.18px #1c1c1c;transform:scaleX(1.1103);transform-origin:left top">ΔMFI = 0.45</div>
</body></html>
